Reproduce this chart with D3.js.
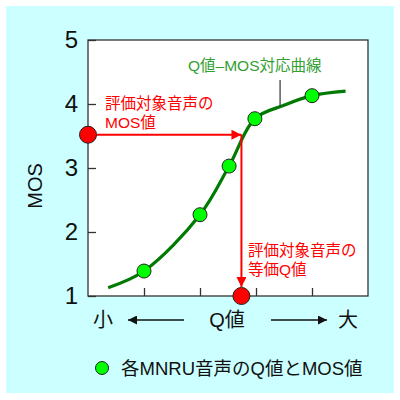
<!DOCTYPE html>
<html lang="ja">
<head>
<meta charset="UTF-8" />
<script src="https://d3js.org/d3.v7.min.js"></script>
<style>
    body { margin: 0; overflow: hidden; background: white; }
    text { font-family: "Liberation Sans", "Noto Sans CJK JP", sans-serif; }
</style>
</head>
<body>
<script>
    // measured points (Q value, MOS)
    const qPoints = [1, 2, 2.52, 2.98, 4];
    const mosPoints = [1.39, 2.27, 3.03, 3.77, 4.13];

    // the Q-MOS curve
    const qCurve = [0.36, 1, 2, 2.52, 2.98, 3.5, 4, 4.6];
    const mosCurve = [1.13, 1.39, 2.27, 3.03, 3.77, 3.98, 4.13, 4.2];

    // evaluated speech
    const targetQ = 2.74;
    const targetMos = 3.52;

    const yTicks = [1, 2, 3, 4, 5];
    const xTicks = [1, 2, 3, 4];

    const width = 400, height = 400;
    const svg = d3.select('body').append('svg')
        .attr('width', width).attr('height', height);

    // cyan panel
    svg.append('rect')
        .attr('x', 6).attr('y', 6).attr('width', 388).attr('height', 387)
        .attr('fill', '#ccffff');

    const x = d3.scaleLinear().domain([0, 5]).range([88, 368]);
    const y = d3.scaleLinear().domain([1, 5]).range([296, 40]);

    // plot area
    svg.append('rect')
        .attr('x', x(0)).attr('y', y(5))
        .attr('width', x(5) - x(0)).attr('height', y(1) - y(5))
        .attr('fill', 'white');

    const defs = svg.append('defs');
    const marker = (id, color, w, h) => defs.append('marker')
        .attr('id', id).attr('viewBox', '0 0 10 10')
        .attr('refX', 10).attr('refY', 5)
        .attr('markerUnits', 'userSpaceOnUse')
        .attr('markerWidth', w).attr('markerHeight', h)
        .attr('orient', 'auto')
        .append('path').attr('d', 'M0,0 L10,5 L0,10 Z').attr('fill', color);
    marker('redArrow', '#ff0000', 12, 10);
    marker('blackArrow', '#111', 12, 9);

    // axes (ticks inside)
    const yAxis = svg.append('g')
        .attr('transform', `translate(${x(0)},0)`)
        .call(d3.axisLeft(y).tickValues(yTicks).tickSize(-8).tickPadding(10).tickFormat(d3.format('d')));
    yAxis.select('.domain').remove();
    yAxis.selectAll('.tick line').attr('stroke', '#333').attr('stroke-width', 1.3);
    yAxis.selectAll('.tick text').attr('font-size', 24).attr('fill', '#111')
        .attr('font-family', '"Liberation Sans", sans-serif');

    const xAxis = svg.append('g')
        .attr('transform', `translate(0,${y(1)})`)
        .call(d3.axisBottom(x).tickValues(xTicks).tickSize(-8).tickFormat(''));
    xAxis.select('.domain').remove();
    xAxis.selectAll('.tick line').attr('stroke', '#333').attr('stroke-width', 1.3);

    // frame
    svg.append('rect')
        .attr('x', x(0)).attr('y', y(5))
        .attr('width', x(5) - x(0)).attr('height', y(1) - y(5))
        .attr('fill', 'none').attr('stroke', '#333').attr('stroke-width', 1.3);

    svg.append('text')
        .attr('transform', `translate(42,186) rotate(-90)`)
        .attr('text-anchor', 'middle')
        .attr('font-size', 20).attr('fill', '#111')
        .text('MOS');

    // curve
    const line = d3.line()
        .x((d, i) => x(qCurve[i]))
        .y((d, i) => y(mosCurve[i]))
        .curve(d3.curveCatmullRom.alpha(0.5));
    svg.append('path')
        .datum(qCurve)
        .attr('d', line)
        .attr('fill', 'none')
        .attr('stroke', '#007a00')
        .attr('stroke-width', 3.2);

    // curve label and pointer
    svg.append('line')
        .attr('x1', x(3.43)).attr('x2', x(3.43))
        .attr('y1', 80).attr('y2', y(3.96))
        .attr('stroke', '#333').attr('stroke-width', 1.2);
    svg.append('text')
        .attr('x', 188).attr('y', 71)
        .attr('font-size', 15.5).attr('fill', '#33a033')
        .text('Q値–MOS対応曲線');

    // red arrows
    svg.append('line')
        .attr('x1', x(0)).attr('y1', y(targetMos))
        .attr('x2', x(targetQ)).attr('y2', y(targetMos))
        .attr('stroke', '#ff0000').attr('stroke-width', 2)
        .attr('marker-end', 'url(#redArrow)');
    svg.append('line')
        .attr('x1', x(targetQ)).attr('y1', y(targetMos))
        .attr('x2', x(targetQ)).attr('y2', y(1) - 9)
        .attr('stroke', '#ff0000').attr('stroke-width', 2)
        .attr('marker-end', 'url(#redArrow)');

    // measured points
    svg.selectAll('circle.pt')
        .data(qPoints)
        .join('circle')
        .attr('class', 'pt')
        .attr('cx', d => x(d))
        .attr('cy', (d, i) => y(mosPoints[i]))
        .attr('r', 7)
        .attr('fill', '#00ff00')
        .attr('stroke', '#222')
        .attr('stroke-width', 1);

    // red points on axes
    svg.append('circle')
        .attr('cx', x(0)).attr('cy', y(targetMos)).attr('r', 8.5)
        .attr('fill', '#ff0000').attr('stroke', '#222').attr('stroke-width', 1);
    svg.append('circle')
        .attr('cx', x(targetQ)).attr('cy', y(1)).attr('r', 8.5)
        .attr('fill', '#ff0000').attr('stroke', '#222').attr('stroke-width', 1);

    // red annotations
    const redText = (x0, y0, lines) => {
        const t = svg.append('text').attr('font-size', 15.5).attr('fill', '#ff0000');
        lines.forEach((s, i) => t.append('tspan').attr('x', x0).attr('y', y0 + i * 18.5).text(s));
    };
    redText(105, 109, ['評価対象音声の', 'MOS値']);
    redText(248, 256, ['評価対象音声の', '等価Q値']);

    // bottom direction labels
    const bottomY = 327;
    svg.append('text').attr('x', 103).attr('y', bottomY).attr('text-anchor', 'middle')
        .attr('font-size', 20).attr('fill', '#111').text('小');
    svg.append('text').attr('x', 227).attr('y', bottomY).attr('text-anchor', 'middle')
        .attr('font-size', 20).attr('fill', '#111').text('Q値');
    svg.append('text').attr('x', 348).attr('y', bottomY).attr('text-anchor', 'middle')
        .attr('font-size', 20).attr('fill', '#111').text('大');
    svg.append('line')
        .attr('x1', 184).attr('y1', 320).attr('x2', 128).attr('y2', 320)
        .attr('stroke', '#111').attr('stroke-width', 1.5)
        .attr('marker-end', 'url(#blackArrow)');
    svg.append('line')
        .attr('x1', 271).attr('y1', 320).attr('x2', 327).attr('y2', 320)
        .attr('stroke', '#111').attr('stroke-width', 1.5)
        .attr('marker-end', 'url(#blackArrow)');

    // legend
    svg.append('circle')
        .attr('cx', 102).attr('cy', 368).attr('r', 6.5)
        .attr('fill', '#00ff00').attr('stroke', '#222').attr('stroke-width', 1);
    svg.append('text')
        .attr('x', 121).attr('y', 375)
        .attr('font-size', 18.5).attr('fill', '#111')
        .text('各MNRU音声のQ値とMOS値');
</script>
</body>
</html>
